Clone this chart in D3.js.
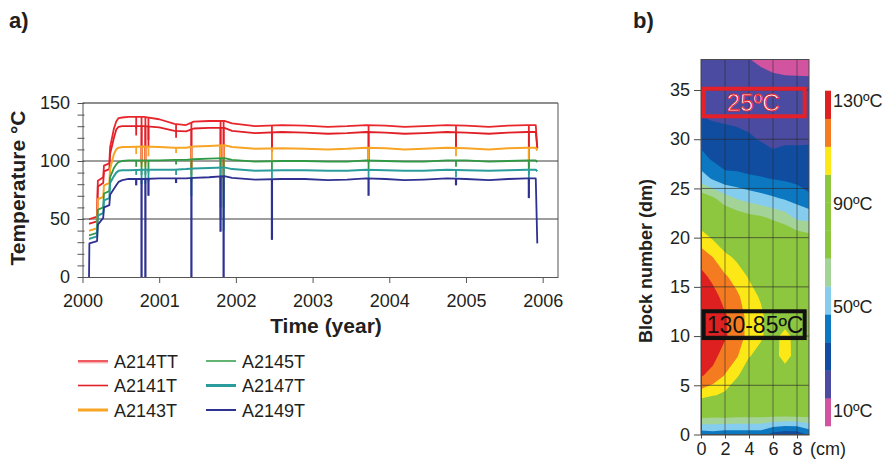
<!DOCTYPE html>
<html><head><meta charset="utf-8">
<script src="https://cdn.jsdelivr.net/npm/d3@7"></script>
<style>
body{margin:0;background:#fff;}
svg{display:block;font-family:"Liberation Sans",Arial,sans-serif;}
</style></head><body>
<svg id="fig" width="882" height="464"></svg>
<script>
// ---------- panel a: sensor temperatures ----------
const years = [2000.085, 2000.09, 2000.19, 2000.2, 2000.27, 2000.28, 2000.35, 2000.36, 2000.41, 2000.44,
  2000.47, 2000.52, 2000.6, 2000.8, 2001.0, 2001.2, 2001.35, 2001.45, 2001.65, 2001.85,
  2001.95, 2002.25, 2002.6, 2002.9, 2003.2, 2003.45, 2003.7, 2003.95, 2004.2, 2004.45,
  2004.75, 2005.0, 2005.3, 2005.55, 2005.8, 2005.91, 2005.93];
const A214TT = [50, 50, 52, 83, 86, 96, 98, 112, 128, 134, 137, 137.5, 138, 138,
  136, 132, 131, 134, 134.5, 134.5, 132.5,
  130, 131, 130.5, 129.5, 130, 131, 130.5, 129.5, 130, 131, 130.5, 129.5, 130.5, 131, 131, 111];
const A2141T = [46, 46, 48, 78, 81, 91, 93, 106, 120, 127, 129.5, 130, 130, 130,
  129, 126, 125.5, 128, 128.5, 128.5, 126,
  124, 125, 124.5, 123.5, 124, 125, 124.5, 123.5, 124, 125, 124.5, 123.5, 124.5, 125, 125, 111];
const A2143T = [40, 40, 42, 67, 69, 79, 81, 93, 106, 110, 111.5, 112, 112, 112.5,
  112, 111.5, 111.5, 112.5, 113, 113.5, 112,
  110.5, 111, 110.5, 110, 110.5, 111.5, 111, 110, 110.5, 111.5, 111, 110, 111, 111.5, 111.5, 109];
const A2145T = [36, 36, 38, 58, 60, 72, 74, 86, 94, 97, 99, 100, 100.5, 100.5,
  100.5, 101, 101, 101.5, 102, 102.5, 101,
  99.5, 100, 100, 99.5, 99.5, 100.5, 100, 99.5, 99.5, 100.5, 100.5, 99.5, 100, 100.5, 100.5, 99];
const A2147T = [33, 33, 35, 53, 55, 66, 68, 81, 87, 90, 91.5, 92, 92, 92.5,
  92.5, 92.5, 93, 93.5, 94, 94.5, 93,
  91.5, 92, 92, 91.5, 91.5, 92.5, 92, 91.5, 91.5, 92.5, 92, 91.5, 92, 92.5, 92.5, 91];
const A2149T = [0, 29, 31, 45, 51, 60, 62, 71, 76, 79, 82, 83.5, 84.5, 84.5,
  85, 85, 85, 85.5, 86, 87, 85.5,
  84, 84.5, 84.5, 83.5, 84, 85, 84.5, 83.5, 84, 85, 84.5, 83.5, 84.5, 85, 85, 29];

// short outages: time and lowest reading of each sensor
const dipYears = [2000.70, 2000.77, 2000.82, 2000.86, 2001.22, 2001.42, 2001.80, 2001.84, 2002.47, 2003.73, 2004.87, 2005.82];
const dipA214TT = [128, 100, 100, 118, 125, 95, 100, 90, 112, 100, 113, 95];
const dipA2141T = [122, 98, 98, 112, 120, 92, 95, 85, 108, 100, 112, 95];
const dipA2143T = [106, 95, 95, 104, 107, 88, 80, 75, 100, 98, 104, 92];
const dipA2145T = [95, 88, 88, 90, 97, 82, 60, 60, 92, 92, 95, 88];
const dipA2147T = [88, 80, 80, 82, 88, 70, 50, 40, 85, 84, 86, 80];
const dipA2149T = [79, 0, 0, 70, 81, 0, 39, 0, 32, 70, 79, 68];

const seriesNames = ["A214TT", "A2141T", "A2143T", "A2145T", "A2147T", "A2149T"];
const seriesValues = [A214TT, A2141T, A2143T, A2145T, A2147T, A2149T];
const seriesDips = [dipA214TT, dipA2141T, dipA2143T, dipA2145T, dipA2147T, dipA2149T];
const seriesColors = ["#e8262c", "#e01f26", "#f8a424", "#2f9a43", "#2a9c9c", "#2e3191"];

const tempTicks = [0, 50, 100, 150];
const yearTicks = [2000, 2001, 2002, 2003, 2004, 2005, 2006];

// ---------- panel b: temperature field in the block ----------
const blockRows = [38, 36, 34, 32, 30, 28, 26, 24, 22, 20, 18, 16, 14, 12, 10, 8, 6, 4, 2, 0];
const cmCols = [0, 1, 2, 3, 4, 5, 6, 7, 8, 9];
const fieldTemps = [
  [19, 17.5, 16.5, 16, 14.5, 12.5, 11.5, 11, 10.5, 10],
  [21, 20, 19, 18.5, 17.5, 17, 15.5, 15, 15, 15],
  [23, 22.5, 21.5, 21, 20, 19.5, 19, 19, 19, 19],
  [25.6, 24.6, 24, 23.5, 22.5, 22, 21.5, 21.5, 21.5, 21.5],
  [32.1, 29.5, 28.5, 27.4, 26.3, 24.3, 22.5, 23.5, 23.5, 23.8],
  [39.8, 34.5, 30.5, 30.2, 30.4, 30, 27.5, 28.5, 28.5, 28],
  [52.2, 45.6, 40, 39.4, 37.6, 36.7, 35.6, 34.5, 33, 32],
  [75, 69.5, 62, 56.6, 53.5, 50.8, 48.3, 45.8, 43, 37.8],
  [92.3, 84.5, 78.6, 75, 71.8, 70, 66.5, 63, 55.5, 54.5],
  [106.6, 99.5, 91.8, 86.8, 81.2, 82, 80, 78, 75, 72],
  [117.5, 112, 104.3, 98.6, 90.6, 90, 88, 86, 85, 84],
  [127, 120, 113.6, 107.7, 100, 95, 91, 90, 90, 89],
  [132, 127.5, 118.8, 114, 106, 99.5, 93, 92, 92, 91],
  [135, 131, 124.5, 117, 109, 103.5, 93, 88, 93, 92],
  [135, 131, 124.5, 117, 109, 103, 93, 108, 93, 92],
  [131, 126.5, 118, 113, 102, 96, 92, 110, 92, 91],
  [124, 119.5, 111.5, 103, 90, 90, 88, 87.5, 88, 88],
  [106.5, 102, 98.4, 85, 82, 82, 82, 82, 82, 82],
  [73.5, 72, 73, 72, 72, 72, 72, 72, 72, 72],
  [40, 42, 40, 40, 40, 40, 32, 28, 29, 38]
];
// lower edge of each colour class (ºC), coldest class below the first edge
const bandEdges = [14, 25, 36, 47, 57.5, 68, 79, 90, 101, 112, 123];
const bandColors = ["#d2539f", "#4b4ba2", "#104da0", "#0b78c1", "#84cdee", "#a4d398",
  "#8dc63f", "#8dc63f", "#8dc63f", "#fde817", "#f47b20", "#de2020"];
const scaleLabels = [130, 90, 50, 10];
const blockTicks = [0, 5, 10, 15, 20, 25, 30, 35];
const cmTicks = [0, 2, 4, 6, 8];
const noteTexts = ["25ºC", "130-85ºC"];
const noteBlocks = [[32.33, 35.13], [9.8, 12.52]];
const noteCm = [[0.22, 8.64], [0.22, 8.64]];
const noteColors = ["#e4202a", "#111111"];

// ---------- drawing ----------
const svg = d3.select("#fig");
const ink = "#231f20";

// panel a
const xA = d3.scaleLinear().domain([2000, 2006.2]).range([82.5, 558]);
const yA = d3.scaleLinear().domain([0, 150]).range([277, 103]);
const gA = svg.append("g");

gA.append("path")
  .attr("d", `M${xA(2006.2)},${yA(150)}V${yA(0)}`)
  .attr("fill", "none").attr("stroke", "#8c8c8c").attr("stroke-width", 1.5);
gA.selectAll("line.grid").data([50, 100, 150]).join("line")
  .attr("x1", xA(2000)).attr("x2", xA(2006.2))
  .attr("y1", d => yA(d)).attr("y2", d => yA(d))
  .attr("stroke", d => d === 150 ? "#6a6a6a" : "#3c3c3c").attr("stroke-width", d => d === 150 ? 1.4 : 1);

const lineA = d3.line().x((d, i) => xA(years[i])).y(d => yA(d));
seriesValues.forEach((vals, s) => {
  const g = gA.append("g").attr("stroke", seriesColors[s]).attr("fill", "none");
  const level = d3.scaleLinear().domain(years).range(vals);
  g.selectAll("line").data(seriesDips[s]).join("line")
    .attr("x1", (d, i) => xA(dipYears[i])).attr("x2", (d, i) => xA(dipYears[i]))
    .attr("y1", (d, i) => yA(level(dipYears[i]))).attr("y2", d => yA(d))
    .attr("stroke-width", s === 5 ? 2.2 : 1.8);
  g.append("path").attr("d", lineA(vals))
    .attr("stroke-width", s === 2 || s === 4 ? 2 : 1.8)
    .attr("stroke-linejoin", "round");
});

const axYA = gA.append("g").attr("transform", `translate(${xA(2000)},0)`)
  .call(d3.axisLeft(yA).tickValues(d3.range(0, 151, 10)).tickSizeInner(5).tickSizeOuter(0).tickPadding(7.5)
    .tickFormat(d => tempTicks.includes(d) ? d : ""));
axYA.selectAll(".tick line").attr("x2", -5).attr("x1", 2).attr("stroke", "#555");
axYA.select(".domain").attr("stroke", "#555");
axYA.selectAll("text").attr("font-size", 18).attr("fill", ink).attr("font-family", "Liberation Sans");

const axXA = gA.append("g").attr("transform", `translate(0,${yA(0)})`)
  .call(d3.axisBottom(xA).tickValues(yearTicks).tickSize(6).tickSizeOuter(0).tickPadding(11).tickFormat(d3.format("d")));
axXA.selectAll(".tick line").attr("stroke", "#555");
axXA.select(".domain").attr("stroke", "#555");
axXA.selectAll("text").attr("font-size", 18).attr("fill", ink).attr("font-family", "Liberation Sans");

gA.append("text").attr("transform", "translate(25,188) rotate(-90)")
  .attr("text-anchor", "middle").attr("font-size", 21).attr("font-weight", "bold").attr("fill", ink)
  .text("Temperature °C");
gA.append("text").attr("x", 326).attr("y", 333)
  .attr("text-anchor", "middle").attr("font-size", 21).attr("font-weight", "bold").attr("fill", ink)
  .text("Time (year)");
svg.append("text").attr("x", 9).attr("y", 28).attr("font-size", 22).attr("font-weight", "bold").attr("fill", ink).text("a)");
svg.append("text").attr("x", 633).attr("y", 28).attr("font-size", 22).attr("font-weight", "bold").attr("fill", ink).text("b)");

// legend
const legendWidths = [1.5, 1.6, 3, 1.5, 3, 2];
const leg = gA.append("g");
seriesNames.forEach((name, i) => {
  const lx = 78 + Math.floor(i / 3) * 128;
  const ly = 361 + (i % 3) * 24.5;
  if (i === 0) {
    leg.append("line").attr("x1", lx).attr("x2", lx + 30).attr("y1", ly + 1.6).attr("y2", ly + 1.6)
      .attr("stroke", "#f6b3b5").attr("stroke-width", 1.6);
  }
  leg.append("line").attr("x1", lx).attr("x2", lx + 30).attr("y1", ly).attr("y2", ly)
    .attr("stroke", seriesColors[i]).attr("stroke-width", legendWidths[i]);
  leg.append("text").attr("x", lx + 36).attr("y", ly + 6.5).attr("font-size", 18).attr("fill", ink).text(name);
});

// panel b
const xB = d3.scaleLinear().domain([0, 9]).range([701, 809]);
const yB = d3.scaleLinear().domain([0, 38.1]).range([434.5, 59.5]);
const gB = svg.append("g");
const defs = svg.append("defs");
defs.append("clipPath").attr("id", "mapclip").append("rect")
  .attr("x", xB(0)).attr("y", yB(38.1)).attr("width", xB(9) - xB(0)).attr("height", yB(0) - yB(38.1));

const nx = cmCols.length, ny = blockRows.length;
const contours = d3.contours().size([nx, ny]).thresholds(bandEdges)(fieldTemps.flat());
const dCm = cmCols[1] - cmCols[0], dBlk = blockRows[1] - blockRows[0];
const toPixels = d3.geoTransform({
  point(x, y) {
    this.stream.point(xB(cmCols[0] + (x - 0.5) * dCm), yB(blockRows[0] + (y - 0.5) * dBlk));
  }
});
const mapPath = d3.geoPath(toPixels);
const map = gB.append("g").attr("clip-path", "url(#mapclip)");
map.append("rect").attr("x", xB(0)).attr("y", yB(38.1)).attr("width", xB(9) - xB(0)).attr("height", yB(0) - yB(38.1))
  .attr("fill", bandColors[0]);
map.selectAll("path").data(contours).join("path")
  .attr("d", mapPath).attr("fill", (d, i) => bandColors[i + 1]);

// grid over the field
gB.selectAll("line.hg").data(blockTicks.filter(d => d > 0)).join("line")
  .attr("x1", xB(0)).attr("x2", xB(9)).attr("y1", d => yB(d)).attr("y2", d => yB(d))
  .attr("stroke", "#2a2a2a").attr("stroke-opacity", 0.65).attr("stroke-width", 1);
gB.selectAll("line.vg").data(cmTicks.filter(d => d > 0)).join("line")
  .attr("x1", d => xB(d)).attr("x2", d => xB(d)).attr("y1", yB(38.1)).attr("y2", yB(0))
  .attr("stroke", "#2a2a2a").attr("stroke-opacity", 0.55).attr("stroke-width", 1);
gB.append("rect").attr("x", xB(0)).attr("y", yB(38.1)).attr("width", xB(9) - xB(0)).attr("height", yB(0) - yB(38.1))
  .attr("fill", "none").attr("stroke", "#4a4a4a").attr("stroke-width", 1);

const axYB = gB.append("g").attr("transform", `translate(${xB(0)},0)`)
  .call(d3.axisLeft(yB).tickValues(blockTicks).tickSize(7).tickSizeOuter(0).tickPadding(4));
axYB.select(".domain").attr("stroke", "#4a4a4a");
axYB.selectAll(".tick line").attr("stroke", "#4a4a4a");
axYB.selectAll("text").attr("font-size", 18).attr("fill", ink).attr("font-family", "Liberation Sans");

const axXB = gB.append("g").attr("transform", `translate(0,${yB(0)})`)
  .call(d3.axisBottom(xB).tickValues(cmTicks).tickSize(4).tickSizeOuter(0).tickPadding(3.5));
axXB.select(".domain").attr("stroke", "#4a4a4a");
axXB.selectAll(".tick line").attr("stroke", "#4a4a4a");
axXB.selectAll("text").attr("font-size", 18).attr("fill", ink).attr("font-family", "Liberation Sans");
gB.append("text").attr("x", xB(9) + 1).attr("y", 455).attr("font-size", 18).attr("fill", ink).text("(cm)");

gB.append("text").attr("transform", "translate(652,261) rotate(-90)")
  .attr("text-anchor", "middle").attr("font-size", 18).attr("font-weight", "bold").attr("fill", ink)
  .text("Block number (dm)");

// annotation boxes
noteTexts.forEach((t, i) => {
  const x0 = xB(noteCm[i][0]), x1 = xB(noteCm[i][1]);
  const y0 = yB(noteBlocks[i][1]), y1 = yB(noteBlocks[i][0]);
  gB.append("rect").attr("x", x0).attr("y", y0).attr("width", x1 - x0).attr("height", y1 - y0)
    .attr("fill", "none").attr("stroke", noteColors[i]).attr("stroke-width", 4);
  const fs = i === 0 ? 24 : 23;
  const txt = gB.append("text").attr("x", (x0 + x1) / 2 + (i === 0 ? -1 : 1)).attr("y", (y0 + y1) / 2 + 0.36 * fs)
    .attr("text-anchor", "middle").attr("font-size", fs).text(t);
  if (i === 0) txt.attr("fill", "#ffffff").attr("stroke", noteColors[0]).attr("stroke-width", 0.9);
  else txt.attr("fill", "#111");
});

// colour scale
const bandY = d3.scaleBand().domain(d3.range(bandColors.length).reverse()).range([90.7, 426]);
gB.selectAll("rect.cb").data(bandColors).join("rect")
  .attr("x", 825).attr("width", 6)
  .attr("y", (d, i) => bandY(i)).attr("height", bandY.bandwidth() + 0.3)
  .attr("fill", d => d);
const labelY = d3.scaleLinear().domain([130, 10]).range([100, 410]);
gB.selectAll("text.cbl").data(scaleLabels).join("text")
  .attr("x", 833).attr("y", d => labelY(d) + 6.5)
  .attr("font-size", 18).attr("fill", ink).text(d => d + "ºC");
</script>
</body></html>
